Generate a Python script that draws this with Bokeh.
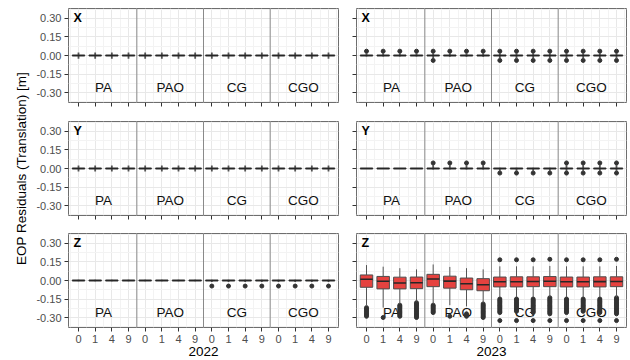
from bokeh.plotting import figure
from bokeh.layouts import column, row
from bokeh.models import (ColumnDataSource, FixedTicker, Label, Span, Range1d,
                          CustomJSTickFormatter)
from bokeh.embed import file_html
from bokeh.resources import INLINE
from bokeh.core.properties import value

# ---------------- data ----------------
groups = ["PA", "PAO", "CG", "CGO"]
levels = ["0", "1", "4", "9"]
components = ["X", "Y", "Z"]
years = ["2022", "2023"]
y_title = "EOP Residuals (Translation) [m]"
y_ticks = [-0.30, -0.15, 0.00, 0.15, 0.30]
y_minor = [-0.375, -0.225, -0.075, 0.075, 0.225, 0.375]

# nearly flat boxes (shared by 2022 panels and 2023 X / Y)
flat_q1 = [-0.003, -0.003, -0.003, -0.003, -0.003, -0.003, -0.003, -0.003,
           -0.003, -0.003, -0.003, -0.003, -0.003, -0.003, -0.003, -0.003]
flat_med = [0.0, 0.0, 0.0, 0.0, 0.0, 0.0, 0.0, 0.0,
            0.0, 0.0, 0.0, 0.0, 0.0, 0.0, 0.0, 0.0]
flat_q3 = [0.003, 0.003, 0.003, 0.003, 0.003, 0.003, 0.003, 0.003,
           0.003, 0.003, 0.003, 0.003, 0.003, 0.003, 0.003, 0.003]

x22_lo = [-0.027, -0.027, -0.027, -0.027, -0.027, -0.027, -0.027, -0.027,
          -0.027, -0.027, -0.027, -0.027, -0.027, -0.027, -0.027, -0.027]
x22_hi = [0.025, 0.025, 0.025, 0.025, 0.025, 0.025, 0.025, 0.025,
          0.025, 0.025, 0.025, 0.025, 0.025, 0.025, 0.025, 0.025]
x22_out = [[], [], [], [], [], [], [], [],
           [], [], [], [], [], [], [], []]

y22_lo = [-0.025, -0.025, -0.025, -0.025, -0.025, -0.025, -0.025, -0.025,
          -0.025, -0.025, -0.025, -0.025, -0.025, -0.025, -0.025, -0.025]
y22_hi = [0.025, 0.025, 0.025, 0.025, 0.025, 0.025, 0.025, 0.025,
          0.025, 0.025, 0.025, 0.025, 0.025, 0.025, 0.025, 0.025]
y22_out = [[], [], [], [], [], [], [], [],
           [], [], [], [], [], [], [], []]

z22_lo = [-0.006, -0.006, -0.006, -0.006, -0.006, -0.006, -0.006, -0.006,
          -0.012, -0.012, -0.012, -0.012, -0.012, -0.012, -0.012, -0.012]
z22_hi = [0.006, 0.006, 0.006, 0.006, 0.006, 0.006, 0.006, 0.006,
          0.006, 0.006, 0.006, 0.006, 0.006, 0.006, 0.006, 0.006]
z22_out = [[], [], [], [], [], [], [], [],
           [-0.045], [-0.045], [-0.045], [-0.045],
           [-0.045], [-0.045], [-0.045], [-0.045]]

x23_lo = [-0.008, -0.008, -0.008, -0.008, -0.02, -0.01, -0.01, -0.01,
          -0.02, -0.02, -0.02, -0.02, -0.02, -0.02, -0.02, -0.02]
x23_hi = [0.02, 0.02, 0.02, 0.02, 0.02, 0.02, 0.02, 0.02,
          0.02, 0.02, 0.02, 0.02, 0.02, 0.02, 0.02, 0.02]
x23_out = [[0.035], [0.035], [0.035], [0.035],
           [-0.04, 0.035], [0.035], [0.035], [0.035],
           [-0.04, 0.035], [-0.04, 0.035], [-0.04, 0.035], [-0.04, 0.035],
           [-0.04, 0.035], [-0.04, 0.035], [-0.04, 0.035], [-0.04, 0.035]]

y23_lo = [-0.004, -0.004, -0.004, -0.004, -0.008, -0.008, -0.008, -0.008,
          -0.022, -0.022, -0.022, -0.022, -0.022, -0.022, -0.022, -0.022]
y23_hi = [0.004, 0.004, 0.004, 0.004, 0.028, 0.028, 0.028, 0.028,
          0.006, 0.006, 0.006, 0.006, 0.028, 0.028, 0.028, 0.028]
y23_out = [[], [], [], [],
           [0.045], [0.045], [0.045], [0.045],
           [-0.037], [-0.037], [-0.037], [-0.037],
           [-0.037, 0.045], [-0.037, 0.045], [-0.037, 0.045], [-0.037, 0.045]]

z23_q1 = [-0.055, -0.068, -0.068, -0.066, -0.050, -0.062, -0.075, -0.083,
          -0.052, -0.052, -0.050, -0.050, -0.052, -0.052, -0.052, -0.050]
z23_med = [0.010, -0.006, -0.020, -0.018, 0.012, -0.005, -0.026, -0.035,
           -0.010, -0.010, -0.008, -0.006, -0.010, -0.010, -0.009, -0.008]
z23_q3 = [0.045, 0.033, 0.027, 0.028, 0.050, 0.035, 0.020, 0.015,
          0.028, 0.030, 0.030, 0.032, 0.028, 0.028, 0.030, 0.030]
z23_lo = [-0.200, -0.220, -0.190, -0.170, -0.190, -0.200, -0.210, -0.180,
          -0.135, -0.135, -0.135, -0.135, -0.135, -0.135, -0.135, -0.135]
z23_hi = [0.125, 0.112, 0.100, 0.090, 0.130, 0.110, 0.100, 0.090,
          0.115, 0.115, 0.115, 0.118, 0.115, 0.115, 0.115, 0.118]
z23_out = [
    [-0.22, -0.23, -0.24, -0.25, -0.26, -0.27, -0.28, -0.29],
    [-0.30],
    [-0.20, -0.21, -0.22, -0.23, -0.24, -0.25, -0.26, -0.27, -0.28, -0.29],
    [-0.18, -0.19, -0.20, -0.21, -0.22, -0.23, -0.24, -0.25, -0.26, -0.27, -0.28, -0.29, -0.30],
    [-0.20, -0.21, -0.22, -0.23, -0.24, -0.25, -0.26],
    [-0.29],
    [-0.27, -0.28, -0.29],
    [-0.19, -0.20, -0.21, -0.22, -0.23, -0.24, -0.25, -0.26, -0.27, -0.28, -0.29, -0.30],
    [0.168, -0.15, -0.16, -0.17, -0.18, -0.19, -0.20, -0.21, -0.22, -0.23, -0.24, -0.25, -0.26, -0.325],
    [0.168, -0.15, -0.16, -0.17, -0.18, -0.19, -0.20, -0.21, -0.22, -0.23, -0.24, -0.25, -0.325],
    [0.168, -0.15, -0.16, -0.17, -0.18, -0.19, -0.20, -0.21, -0.22, -0.23, -0.24, -0.25, -0.26, -0.325],
    [0.172, -0.14, -0.15, -0.16, -0.17, -0.18, -0.19, -0.20, -0.21, -0.22, -0.23, -0.24, -0.25, -0.26, -0.27, -0.325],
    [0.168, -0.15, -0.16, -0.17, -0.18, -0.19, -0.20, -0.21, -0.22, -0.23, -0.24, -0.25, -0.26, -0.325],
    [0.168, -0.15, -0.16, -0.17, -0.18, -0.19, -0.20, -0.21, -0.22, -0.23, -0.24, -0.25, -0.325],
    [0.168, -0.15, -0.16, -0.17, -0.18, -0.19, -0.20, -0.21, -0.22, -0.23, -0.24, -0.25, -0.26, -0.325],
    [0.172, -0.14, -0.15, -0.16, -0.17, -0.18, -0.19, -0.20, -0.21, -0.22, -0.23, -0.24, -0.25, -0.26, -0.27, -0.325],
]

panel_stats = {
    ("X", "2022"): (flat_q1, flat_med, flat_q3, x22_lo, x22_hi, x22_out),
    ("Y", "2022"): (flat_q1, flat_med, flat_q3, y22_lo, y22_hi, y22_out),
    ("Z", "2022"): (flat_q1, flat_med, flat_q3, z22_lo, z22_hi, z22_out),
    ("X", "2023"): (flat_q1, flat_med, flat_q3, x23_lo, x23_hi, x23_out),
    ("Y", "2023"): (flat_q1, flat_med, flat_q3, y23_lo, y23_hi, y23_out),
    ("Z", "2023"): (z23_q1, z23_med, z23_q3, z23_lo, z23_hi, z23_out),
}

# ---------------- style ----------------
FONT = "Liberation Sans"
FILL = {"2022": "#3A5A8C", "2023": "#E5423F"}
BOX_LINE = "#4d4d4d"
WHISK = "#555555"
MED = "#262626"
OUT = "#333333"
BOX_W = 0.75
FRAME_W, FRAME_H = 270, 94
GROUP_LABEL_Y = -0.26
TITLE_W = 30
# (top border, bottom border) per row
ROW_BORDERS = [(8, 10), (9, 10), (8, 32)]
TOTAL_H = sum(t + FRAME_H + b for t, b in ROW_BORDERS)

n_lv = len(levels)
xs = [gi * n_lv + li + 1 for gi in range(len(groups)) for li in range(n_lv)]
x_minor = [x - 0.5 for x in xs] + [xs[-1] + 0.5]
x_overrides = {x: levels[i % n_lv] for i, x in enumerate(xs)}
centers = [gi * n_lv + (n_lv + 1) / 2 for gi in range(len(groups))]
seps = [gi * n_lv + 0.5 for gi in range(1, len(groups))]


def make_panel(comp, year, ri, ci):
    last_row = ri == len(components) - 1
    top, bottom = ROW_BORDERS[ri]
    p = figure(frame_width=FRAME_W, frame_height=FRAME_H,
               x_range=Range1d(0.4, 16.6), y_range=Range1d(-0.381, 0.381),
               output_backend="svg", toolbar_location=None,
               min_border_top=top, min_border_bottom=bottom,
               min_border_left=38 if ci == 0 else 16,
               min_border_right=2 if ci == 0 else 3)
    p.background_fill_color = "white"
    p.border_fill_color = "white"
    p.outline_line_color = "#6e6e6e"
    p.outline_line_width = 1

    p.xaxis.ticker = FixedTicker(ticks=xs, minor_ticks=x_minor)
    p.yaxis.ticker = FixedTicker(ticks=y_ticks, minor_ticks=y_minor)
    for ax in (p.xaxis[0], p.yaxis[0]):
        ax.axis_line_color = None
        ax.major_tick_line_color = "#333333"
        ax.major_tick_out = 4
        ax.major_tick_in = 0
        ax.minor_tick_line_color = None
        ax.major_label_text_font = FONT
        ax.major_label_text_font_size = "11px"
        ax.major_label_text_color = "#4d4d4d"
        ax.major_label_standoff = 3
        ax.axis_label_text_font = FONT
        ax.axis_label_text_font_size = "13.5px"
        ax.axis_label_text_font_style = "normal"
        ax.axis_label_text_color = "black"
    if last_row:
        p.xaxis.major_label_overrides = x_overrides
        p.xaxis.axis_label = year
        p.xaxis.axis_label_standoff = 1
    else:
        p.xaxis.formatter = CustomJSTickFormatter(code="return '';")
    if ci == 0:
        p.yaxis.formatter = CustomJSTickFormatter(code="return tick.toFixed(2);")
    else:
        p.yaxis.formatter = CustomJSTickFormatter(code="return '';")

    p.xgrid.grid_line_color = "#e8e8e8"
    p.ygrid.grid_line_color = "#e8e8e8"
    p.xgrid.minor_grid_line_color = "#f3f3f3"
    p.ygrid.minor_grid_line_color = "#f3f3f3"

    for s in seps:
        p.add_layout(Span(location=s, dimension="height",
                          line_color="#8a8a8a", line_width=1))

    gsrc = ColumnDataSource(dict(x=centers, y=[GROUP_LABEL_Y] * len(centers), t=groups))
    p.text(x="x", y="y", text="t", source=gsrc, text_align="center",
           text_baseline="middle", text_font=value(FONT),
           text_font_size="13.5px", text_color="#111111")

    q1, med, q3, lo, hi, out = panel_stats[(comp, year)]
    src = ColumnDataSource(dict(
        x=xs, q1=q1, med=med, q3=q3, lo=lo, hi=hi,
        xl=[x - BOX_W / 2 for x in xs], xr=[x + BOX_W / 2 for x in xs]))
    ox = [x for x, o in zip(xs, out) for _ in o]
    oy = [v for o in out for v in o]
    if ox:
        p.scatter(ox, oy, size=4, fill_color=OUT, line_color=OUT)
    whisk_w = 1 if year == "2023" and comp == "Z" else 1.8
    p.segment(x0="x", y0="lo", x1="x", y1="q1", source=src,
              line_color=WHISK, line_width=whisk_w)
    p.segment(x0="x", y0="q3", x1="x", y1="hi", source=src,
              line_color=WHISK, line_width=whisk_w)
    p.vbar(x="x", width=BOX_W, bottom="q1", top="q3", source=src,
           fill_color=FILL[year], line_color=BOX_LINE, line_width=1)
    p.segment(x0="xl", y0="med", x1="xr", y1="med", source=src,
              line_color=MED, line_width=1.6)

    p.add_layout(Label(x=0.7, y=0.30, text=comp, text_font=FONT,
                       text_font_size="12.5px", text_font_style="bold",
                       text_color="black", text_baseline="middle",
                       text_align="left"))
    return p


# y-axis title in its own narrow strip (spans all rows)
tf = figure(width=TITLE_W, height=TOTAL_H, x_range=Range1d(0, TITLE_W),
            y_range=Range1d(0, TOTAL_H), output_backend="svg",
            toolbar_location=None, min_border=0)
tf.axis.visible = False
tf.grid.visible = False
tf.outline_line_color = None
tf.background_fill_color = "white"
tf.border_fill_color = "white"
mid_y = TOTAL_H - (ROW_BORDERS[0][0] + FRAME_H + ROW_BORDERS[0][1]
                   + ROW_BORDERS[1][0] + FRAME_H / 2)
tf.add_layout(Label(x=21, y=mid_y, text=y_title, angle=90, angle_units="deg",
                    text_font=FONT, text_font_size="13.5px", text_color="black",
                    text_align="center", text_baseline="middle"))

cols = [tf]
for ci, yr in enumerate(years):
    cols.append(column([make_panel(c, yr, ri, ci) for ri, c in enumerate(components)]))
layout = row(cols)

open("out.html", "w").write(file_html(layout, INLINE))
